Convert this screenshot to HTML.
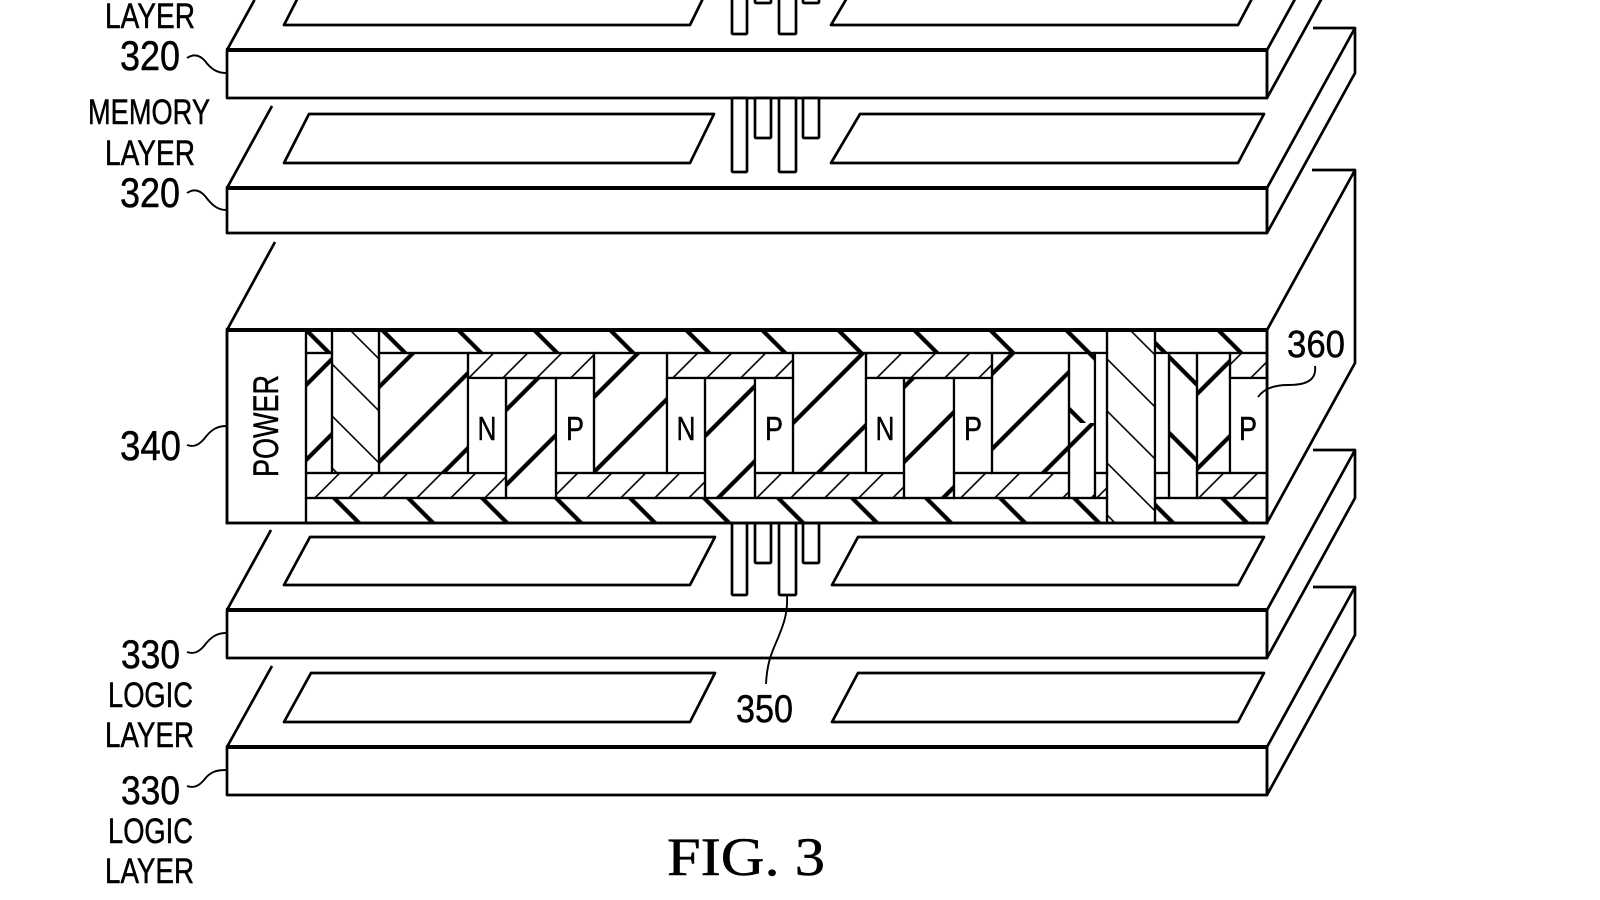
<!DOCTYPE html>
<html><head><meta charset="utf-8"><style>html,body{margin:0;padding:0;background:#fff;width:1600px;height:900px;overflow:hidden}svg{display:block}</style></head>
<body>
<svg width="1600" height="900" viewBox="0 0 1600 900" xmlns="http://www.w3.org/2000/svg">
<defs>
<pattern id="tks" patternUnits="userSpaceOnUse" width="53.03" height="20" patternTransform="rotate(45)"><rect x="9.3" y="0" width="4.2" height="20" fill="#000"/></pattern>
<pattern id="tkbT" patternUnits="userSpaceOnUse" width="53.74" height="20" patternTransform="rotate(-45)"><rect x="34.8" y="0" width="4.2" height="20" fill="#000"/></pattern>
<pattern id="tkbB" patternUnits="userSpaceOnUse" width="52.33" height="20" patternTransform="rotate(-45)"><rect x="39" y="0" width="4.2" height="20" fill="#000"/></pattern>
<pattern id="tns" patternUnits="userSpaceOnUse" width="24.04" height="20" patternTransform="rotate(45)"><rect x="21" y="0" width="1.6" height="20" fill="#000"/></pattern>
<pattern id="tnb" patternUnits="userSpaceOnUse" width="36.77" height="20" patternTransform="rotate(-45)"><rect x="13.4" y="0" width="1.6" height="20" fill="#000"/></pattern>
</defs>
<rect width="1600" height="900" fill="#fff"/>

<g fill="none" stroke="#000" stroke-width="2.7" stroke-linejoin="round">
<!-- Slab A T=50 B=98 -->
<line x1="227" y1="50" x2="254.5" y2="0"/>
<rect x="227" y="50" width="1040" height="48" fill="#fff"/>
<polygon points="1267,50 1355,-110 1355,-62 1267,98"/>
<polygon points="309,-24 714,-24 690,25 284,25"/>
<polygon points="860,-24 1264,-24 1238,25 831,25"/>
<!-- Slab B T=188 B=233 -->
<line x1="227" y1="188" x2="272" y2="106"/>
<rect x="227" y="188" width="1040" height="45" fill="#fff"/>
<polygon points="1267,188 1355,28 1355,73 1267,233"/>
<line x1="1313" y1="28" x2="1355" y2="28"/>
<polygon points="309,114 714,114 690,163 284,163"/>
<polygon points="860,114 1264,114 1238,163 831,163"/>
<!-- Slab C T=330 B=523 -->
<line x1="227" y1="330" x2="275" y2="242"/>
<polygon points="1267,330 1355,170 1355,363 1267,523"/>
<line x1="1312" y1="170" x2="1355" y2="170"/>
<!-- Slab D T=610 B=658 -->
<line x1="227" y1="610" x2="271" y2="530"/>
<rect x="227" y="610" width="1040" height="48" fill="#fff"/>
<polygon points="1267,610 1355,450 1355,498 1267,658"/>
<line x1="1313" y1="450" x2="1355" y2="450"/>
<polygon points="310,537 715,537 690,585 284,585"/>
<polygon points="858,537 1264,537 1238,585 832,585"/>
<!-- Slab E T=747 B=795 -->
<line x1="227" y1="747" x2="272" y2="666"/>
<rect x="227" y="747" width="1040" height="48" fill="#fff"/>
<polygon points="1267,747 1355,587 1355,635 1267,795"/>
<line x1="1313" y1="587" x2="1355" y2="587"/>
<polygon points="311,673 715,673 690,722 284,722"/>
<polygon points="858,673 1264,673 1238,722 832,722"/>
</g>
<!-- thick front-top edges -->
<g stroke="#000" stroke-width="4">
<line x1="226" y1="50" x2="1267" y2="50"/>
<line x1="226" y1="188" x2="1267" y2="188"/>
<line x1="226" y1="610" x2="1267" y2="610"/>
<line x1="226" y1="747" x2="1267" y2="747"/>
</g>

<!-- pillars -->
<g fill="#fff" stroke="#000" stroke-width="2.7">
<rect x="732" y="-5" width="15" height="39" rx="1"/>
<rect x="755" y="-5" width="16" height="8" rx="1"/>
<rect x="779" y="-5" width="17" height="39" rx="1"/>
<rect x="803" y="-5" width="16" height="8" rx="1"/>

<rect x="732" y="98" width="15" height="74" rx="1"/>
<rect x="755" y="98" width="16" height="40" rx="1"/>
<rect x="779" y="98" width="17" height="74" rx="1"/>
<rect x="803" y="98" width="16" height="40" rx="1"/>

<rect x="732" y="523" width="15" height="72" rx="1"/>
<rect x="755" y="523" width="16" height="40" rx="1"/>
<rect x="779" y="523" width="17" height="72" rx="1"/>
<rect x="803" y="523" width="16" height="40" rx="1"/>
</g>

<!-- Power slab front face -->
<rect x="227" y="330" width="1040" height="193" fill="#fff" stroke="#000" stroke-width="2.5"/>
<g stroke="#000" stroke-width="2.2">
<!-- top strip -->
<rect x="306" y="330" width="26" height="23" fill="url(#tkbT)"/>
<rect x="379" y="330" width="728" height="23" fill="url(#tkbT)"/>
<rect x="1155" y="330" width="112" height="23" fill="url(#tkbT)"/>
<!-- bottom strip -->
<rect x="306" y="498" width="801" height="25" fill="url(#tkbB)"/>
<rect x="1155" y="498" width="112" height="25" fill="url(#tkbB)"/>
<!-- left -->
<rect x="306" y="353" width="26" height="120" fill="url(#tks)"/>
<rect x="332" y="330" width="47" height="143" fill="url(#tnb)"/>
<rect x="379" y="353" width="89" height="120" fill="url(#tks)"/>
<rect x="306" y="473" width="200" height="25" fill="url(#tns)"/>
<!-- unit 0 -->
<rect x="468" y="353" width="126" height="25" fill="url(#tns)"/>
<rect x="468" y="378" width="38" height="95" fill="#fff"/>
<rect x="506" y="378" width="50" height="120" fill="url(#tks)"/>
<rect x="556" y="378" width="38" height="95" fill="#fff"/>
<rect x="594" y="353" width="73" height="120" fill="url(#tks)"/>
<rect x="556" y="473" width="149" height="25" fill="url(#tns)"/>
<!-- unit 1 -->
<rect x="667" y="353" width="126" height="25" fill="url(#tns)"/>
<rect x="667" y="378" width="38" height="95" fill="#fff"/>
<rect x="705" y="378" width="50" height="120" fill="url(#tks)"/>
<rect x="755" y="378" width="38" height="95" fill="#fff"/>
<rect x="793" y="353" width="73" height="120" fill="url(#tks)"/>
<rect x="755" y="473" width="149" height="25" fill="url(#tns)"/>
<!-- unit 2 -->
<rect x="866" y="353" width="126" height="25" fill="url(#tns)"/>
<rect x="866" y="378" width="38" height="95" fill="#fff"/>
<rect x="904" y="378" width="50" height="120" fill="url(#tks)"/>
<rect x="954" y="378" width="38" height="95" fill="#fff"/>
<rect x="992" y="353" width="77" height="120" fill="url(#tks)"/>
<rect x="954" y="473" width="115" height="25" fill="url(#tns)"/>
<!-- right special -->
<rect x="1069" y="353" width="26" height="70" fill="url(#tkbT)" stroke="none"/>
<rect x="1069" y="423" width="26" height="75" fill="url(#tks)" stroke="none"/>
<rect x="1069" y="353" width="26" height="145" fill="none"/>
<rect x="1095" y="353" width="12" height="120" fill="#fff"/>
<rect x="1095" y="473" width="12" height="25" fill="url(#tns)"/>
<rect x="1107" y="330" width="48" height="193" fill="url(#tnb)"/>
<rect x="1155" y="353" width="14" height="120" fill="#fff"/>
<rect x="1155" y="473" width="14" height="25" fill="url(#tkbB)"/>
<rect x="1169" y="353" width="28" height="145" fill="url(#tkbT)"/>
<rect x="1197" y="353" width="33" height="120" fill="url(#tks)"/>
<rect x="1230" y="353" width="37" height="25" fill="url(#tns)"/>
<rect x="1230" y="378" width="37" height="95" fill="#fff"/>
<rect x="1197" y="473" width="70" height="25" fill="url(#tns)"/>
<!-- power box -->
<line x1="306" y1="330" x2="306" y2="523"/>
</g>
<rect x="227" y="330" width="1040" height="193" fill="none" stroke="#000" stroke-width="2.7"/>
<line x1="226" y1="330" x2="1267" y2="330" stroke="#000" stroke-width="4"/>

<!-- N/P letters -->
<g font-family="'Liberation Sans', Arial, sans-serif" font-size="33" text-anchor="middle" fill="#000" stroke="#000" stroke-width="0.5">
<text x="487" y="440" textLength="19" lengthAdjust="spacingAndGlyphs">N</text>
<text x="575" y="440" textLength="18" lengthAdjust="spacingAndGlyphs">P</text>
<text x="686" y="440" textLength="19" lengthAdjust="spacingAndGlyphs">N</text>
<text x="774" y="440" textLength="18" lengthAdjust="spacingAndGlyphs">P</text>
<text x="885" y="440" textLength="19" lengthAdjust="spacingAndGlyphs">N</text>
<text x="973" y="440" textLength="18" lengthAdjust="spacingAndGlyphs">P</text>
<text x="1248" y="440" textLength="18" lengthAdjust="spacingAndGlyphs">P</text>
</g>

<!-- leaders -->
<g fill="none" stroke="#000" stroke-width="1.9">
<path d="M187,58 C193,54 199,54 205,61 C211,69 217,73 226,73"/>
<path d="M187,193 C193,189 199,189 205,196 C211,204 217,210 226,210"/>
<path d="M187,445 C193,447 198,446 204,439 C210,431 216,426 226,426"/>
<path d="M187,652 C193,654 198,653 204,646 C210,638 216,633 226,633"/>
<path d="M187,786 C193,788 198,787 204,780 C210,772 216,770 226,770"/>
<path d="M1315,366 C1317,382 1303,385 1288,385 C1272,385 1263,390 1258,397"/>
<path d="M787,596 C788,615 782,628 778,638 C772,652 767,662 766,684"/>
</g>

<!-- labels -->
<g font-family="'Liberation Sans', Arial, sans-serif" fill="#000" stroke="#000" stroke-width="0.5">
<text x="105" y="28" font-size="35" textLength="90" lengthAdjust="spacingAndGlyphs">LAYER</text>
<text x="120" y="70" font-size="42" textLength="60" lengthAdjust="spacingAndGlyphs">320</text>
<text x="88" y="124" font-size="35" textLength="122" lengthAdjust="spacingAndGlyphs">MEMORY</text>
<text x="105" y="165" font-size="35" textLength="90" lengthAdjust="spacingAndGlyphs">LAYER</text>
<text x="120" y="207" font-size="42" textLength="60" lengthAdjust="spacingAndGlyphs">320</text>
<text x="120" y="460" font-size="42" textLength="61" lengthAdjust="spacingAndGlyphs">340</text>
<text transform="translate(278,477) rotate(-90)" font-size="35" textLength="102" lengthAdjust="spacingAndGlyphs">POWER</text>
<text x="1287" y="357" font-size="38" textLength="58" lengthAdjust="spacingAndGlyphs">360</text>
<text x="121" y="668" font-size="40" textLength="59" lengthAdjust="spacingAndGlyphs">330</text>
<text x="108" y="707" font-size="35" textLength="85" lengthAdjust="spacingAndGlyphs">LOGIC</text>
<text x="105" y="747" font-size="35" textLength="89" lengthAdjust="spacingAndGlyphs">LAYER</text>
<text x="121" y="804" font-size="40" textLength="59" lengthAdjust="spacingAndGlyphs">330</text>
<text x="108" y="843" font-size="35" textLength="85" lengthAdjust="spacingAndGlyphs">LOGIC</text>
<text x="105" y="883" font-size="35" textLength="89" lengthAdjust="spacingAndGlyphs">LAYER</text>
<text x="736" y="722" font-size="39" textLength="57" lengthAdjust="spacingAndGlyphs">350</text>
</g>
<text x="667" y="875" font-family="'Liberation Serif', 'Times New Roman', serif" font-size="54" textLength="158" lengthAdjust="spacingAndGlyphs" fill="#000" stroke="#000" stroke-width="0.5">FIG. 3</text>
</svg>
</body></html>
